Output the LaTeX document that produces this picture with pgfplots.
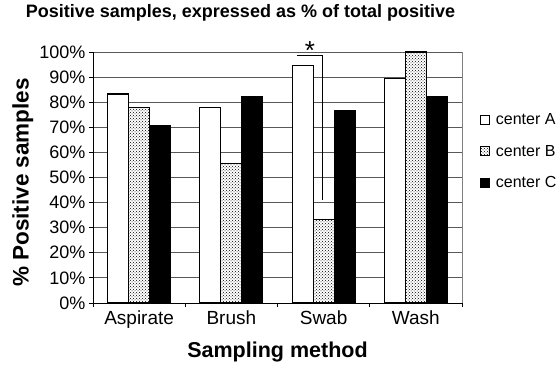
\documentclass[border=0pt]{standalone}
\usepackage{pgfplots}
\pgfplotsset{compat=1.18}
\usepackage{fontspec}
\setmainfont{Liberation Sans}
\usetikzlibrary{patterns}
\begin{document}
\begin{tikzpicture}
\begin{axis}[
  at={(0,0)}, anchor=south west,
  scale only axis, width=369pt, height=251pt,
  ybar=0pt, bar width=21pt,
  xmin=-0.5, xmax=3.5, ymin=0, ymax=100,
  axis x line*=bottom, axis y line*=left,
  axis line style={black, line width=0.9pt},
  xtick={-0.5,0.5,1.5,2.5,3.5}, xticklabels={},
  extra x ticks={0,1,2,3},
  extra x tick labels={Aspirate,Brush,Swab,Wash},
  extra x tick style={major tick length=0pt, grid=none,
    tick label style={font=\fontsize{19}{22}\selectfont, yshift=-4pt}},
  ytick={0,10,...,100},
  yticklabel={\pgfmathprintnumber{\tick}\%},
  tick align=outside, major tick length=4pt,
  tick style={black, line width=0.9pt},
  /pgf/number format/assume math mode=true,
  tick label style={font=\fontsize{18}{21}\selectfont},
  ymajorgrids, major grid style={black!65, line width=0.9pt},
  clip=false,
  title={Positive samples, expressed as \% of total positive},
  title style={font=\fontsize{18}{21}\selectfont\bfseries, at={(axis description cs:0.3997,1.131)}, anchor=center},
  xlabel={Sampling method},
  xlabel style={font=\fontsize{21.5}{24}\selectfont\bfseries, at={(axis description cs:0.5,-0.195)}, anchor=center},
  ylabel={\% Positive samples},
  ylabel style={font=\fontsize{22.5}{25}\selectfont\bfseries, at={(axis description cs:-0.19,0.48)}, anchor=center, rotate=0},
  legend style={draw=none, fill=none, font=\fontsize{16}{19}\selectfont,
    at={(axis description cs:1.049,0.755)}, anchor=north west,
    row sep=19pt, inner sep=0pt, outer sep=0pt,
    nodes={inner sep=0pt}},
  legend cell align=left,
  legend image code/.code={\draw[#1, line width=0.8pt] (0pt,-4.5pt) rectangle (9pt,4.5pt);},
]
\addplot[draw=black, line width=1.2pt, fill=white] coordinates {(0,83.3) (1,77.8) (2,94.7) (3,89.5)};
\addplot[draw=black, line width=1.2pt, fill=white, postaction={pattern=crosshatch dots}] coordinates {(0,77.8) (1,55.6) (2,33.3) (3,100)};
\addplot[draw=black, line width=1.2pt, fill=black] coordinates {(0,70.6) (1,82.4) (2,76.5) (3,82.4)};
\legend{\hspace*{6pt}center A, \hspace*{6pt}center B, \hspace*{6pt}center C}
\draw[black!50, line width=0.9pt] (rel axis cs:1,0) -- (rel axis cs:1,1);
\draw[black, line width=1.1pt] (axis cs:1.711,98.7) -- (axis cs:1.989,98.7) -- (axis cs:1.989,41);
\node[font=\fontsize{26}{26}\selectfont, inner sep=0pt] at (axis cs:1.852,100.5) {*};
\end{axis}
\path (-93pt,-66pt) rectangle (467pt,303pt);
\end{tikzpicture}
\end{document}
